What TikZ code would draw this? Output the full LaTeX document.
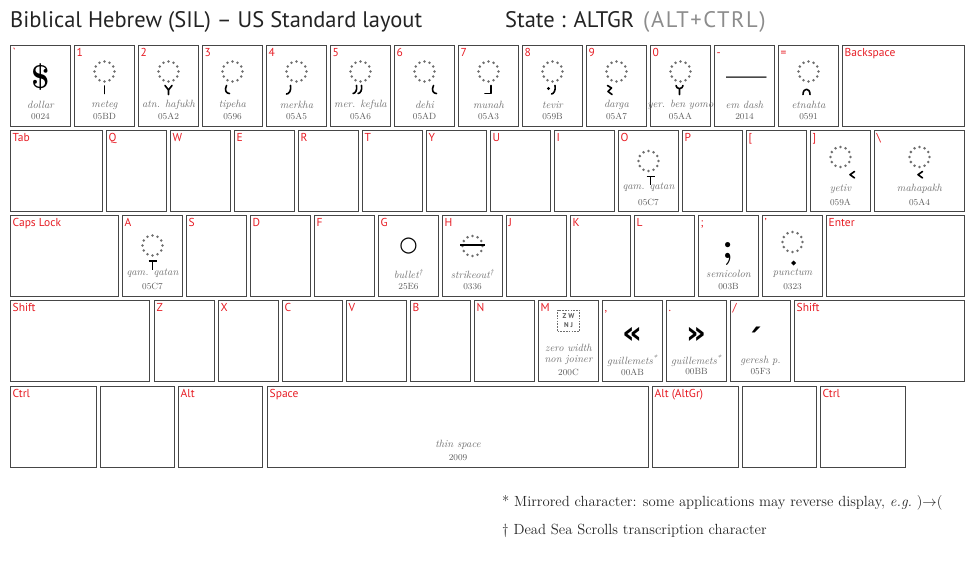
\documentclass[tikz,border=0pt]{standalone}
\usepackage{fontspec}
\usetikzlibrary{positioning,calc}
\newfontfamily\keyfont{PT Sans}
\newfontfamily\symfont{DejaVu Sans}
\definecolor{kbred}{RGB}{230,28,36}
\definecolor{kbline}{RGB}{70,70,70}
\definecolor{kbname}{RGB}{112,112,112}
\definecolor{kbcode}{RGB}{90,90,90}
\definecolor{kbring}{RGB}{110,110,110}
\definecolor{kbtitle}{RGB}{35,35,35}
\definecolor{kbmods}{RGB}{140,140,140}
\tikzset{
  keycap/.style={draw=kbline, line width=1pt, minimum height=81pt, inner sep=0pt, anchor=north west},
  keylbl/.style={anchor=base west, inner sep=0pt, text=kbred, font=\keyfont\fontsize{11.5}{12}\selectfont},
  gname/.style={inner sep=0pt, text=kbname, font=\itshape\fontsize{10.5}{12}\selectfont},
  gcode/.style={inner sep=0pt, text=kbcode, font=\fontsize{9}{10}\selectfont},
  bigglyph/.style={inner sep=0pt, anchor=base},
  accmark/.style={draw=black, line width=1.6pt, line cap=round, line join=round},
  titletxt/.style={anchor=base west, inner sep=0pt, text=kbtitle, font=\keyfont\fontsize{22.5}{26}\selectfont},
  foot/.style={anchor=base west, inner sep=0pt, text=kbtitle, font=\fontsize{14.7}{16}\selectfont},
  zwbox/.style={draw=kbring, dash pattern=on 1.6pt off 1.2pt, line width=0.8pt, minimum width=22pt, minimum height=21pt, inner sep=0pt, align=center, text=kbcode, font=\keyfont\bfseries\fontsize{7}{8.5}\selectfont}
}
% ring of dots standing for the base character
\newcommand{\dotring}[1]{%
  \foreach \a in {0,30,...,330}{\fill[kbring] ($(#1)+(\a:10)$) circle (1.4);}}

\begin{document}
\begin{tikzpicture}[x=1pt,y=-1pt]
\useasboundingbox (0,0) rectangle (976,560);

% Title
\node[titletxt] (title) at (10,27) {Biblical Hebrew (SIL) – US Standard layout};
\node[titletxt] (state) at (505,27) {State : ALTGR};
\node[titletxt, text=kbmods] (mods) at (643,27) {\addfontfeature{LetterSpace=7}(ALT+CTRL)};

% Row 1
\foreach \lab [count=\i from 0] in {`,1,2,3,4,5,6,7,8,9,0,-,=}{
  \node[keycap, minimum width=60pt] (ka\i) at (10+64*\i,45) {};
  \node[keylbl] at ([shift={(2.5,11.5)}]ka\i.north west) {\lab};
}
\node[keycap, minimum width=122pt] (bksp) at (842,45) {};
\node[keylbl] at ([shift={(2.5,11.5)}]bksp.north west) {Backspace};

% Row 2
\node[keycap, minimum width=92pt] (tab) at (10,130) {};
\node[keylbl] at ([shift={(2.5,11.5)}]tab.north west) {Tab};
\foreach \lab [count=\i from 0] in {Q,W,E,R,T,Y,U,I,O,P,{[},{]}}{
  \node[keycap, minimum width=60pt] (kb\i) at (106+64*\i,130) {};
  \node[keylbl] at ([shift={(2.5,11.5)}]kb\i.north west) {\lab};
}
\node[keycap, minimum width=90pt] (bsl) at (874,130) {};
\node[keylbl] at ([shift={(2.5,11.5)}]bsl.north west) {\textbackslash};

% Row 3
\node[keycap, minimum width=108pt] (caps) at (10,215) {};
\node[keylbl] at ([shift={(2.5,11.5)}]caps.north west) {Caps Lock};
\foreach \lab [count=\i from 0] in {A,S,D,F,G,H,J,K,L,{;},’}{
  \node[keycap, minimum width=60pt] (kc\i) at (122+64*\i,215) {};
  \node[keylbl] at ([shift={(2.5,11.5)}]kc\i.north west) {\lab};
}
\node[keycap, minimum width=138pt] (enter) at (826,215) {};
\node[keylbl] at ([shift={(2.5,11.5)}]enter.north west) {Enter};

% Row 4
\node[keycap, minimum width=139pt] (lshift) at (10,300) {};
\node[keylbl] at ([shift={(2.5,11.5)}]lshift.north west) {Shift};
\foreach \lab [count=\i from 0] in {Z,X,C,V,B,N,M,{,},.,/}{
  \node[keycap, minimum width=60pt] (kd\i) at (154+64*\i,300) {};
  \node[keylbl] at ([shift={(2.5,11.5)}]kd\i.north west) {\lab};
}
\node[keycap, minimum width=170pt] (rshift) at (794,300) {};
\node[keylbl] at ([shift={(2.5,11.5)}]rshift.north west) {Shift};

% Row 5
\node[keycap, minimum width=86pt] (lctrl) at (10,386) {};
\node[keylbl] at ([shift={(2.5,11.5)}]lctrl.north west) {Ctrl};
\node[keycap, minimum width=74pt] (lwin) at (100,386) {};
\node[keycap, minimum width=84pt] (alt) at (178,386) {};
\node[keylbl] at ([shift={(2.5,11.5)}]alt.north west) {Alt};
\node[keycap, minimum width=381pt] (space) at (267,386) {};
\node[keylbl] at ([shift={(2.5,11.5)}]space.north west) {Space};
\node[keycap, minimum width=86pt] (altgr) at (652,386) {};
\node[keylbl] at ([shift={(2.5,11.5)}]altgr.north west) {Alt (AltGr)};
\node[keycap, minimum width=74pt] (menu) at (742,386) {};
\node[keycap, minimum width=85pt] (rctrl) at (820,386) {};
\node[keylbl] at ([shift={(2.5,11.5)}]rctrl.north west) {Ctrl};

% Row 1 names and code points
\foreach \i/\nm/\cd in {0/dollar/0024, 1/meteg/05BD, 2/atn. hafukh/05A2, 3/tipeha/0596,
    4/merkha/05A5, 5/mer. kefula/05A6, 6/dehi/05AD, 7/munah/05A3, 8/tevir/059B,
    9/darga/05A7, 10/yer. ben yomo/05AA, 11/em dash/2014, 12/etnahta/0591}{
  \node[gname] (na\i) at ([shift={(0,60)}]ka\i.north) {\nm};
  \node[gcode] (ca\i) at ([shift={(0,71.5)}]ka\i.north) {\cd};
}
\foreach \i in {1,2,3,4,5,6,7,8,9,10,12}{
  \coordinate (ra\i) at ([shift={(0,26.5)}]ka\i.north);
  \dotring{ra\i}
}
\node[bigglyph, font=\bfseries\fontsize{33}{33}\selectfont] (dollar) at ([shift={(0,43)}]ka0.north) {\$};
\node[bigglyph, font=\bfseries\fontsize{36}{36}\selectfont] (emdash) at ([shift={(2,42)}]ka11.north) {—};

% Row 1 marks below the ring
\draw[accmark] ([shift={(0,14.5)}]ra1) -- ++(0,7.5);
\draw[accmark] ([shift={(-3.5,14)}]ra2) -- ++(3.5,4.5) -- ++(3.5,-4.5) ++(-3.5,4.5) -- ++(0,4.5);
\draw[accmark] ([shift={(-6,14)}]ra3) .. controls +(-2.5,5) and +(-3,0) .. ++(3,8);
\draw[accmark] ([shift={(-6,14)}]ra4) .. controls +(1,5) and +(2.5,0) .. ++(-4,8.5);
\foreach \dx in {-5,0}
  \draw[accmark] ([shift={(\dx+1,14)}]ra5) .. controls +(1,5) and +(2,0) .. ++(-3.5,8);
\draw[accmark] ([shift={(9,14)}]ra6) .. controls +(-2.5,5) and +(-3,0) .. ++(3,8);
\draw[accmark] ([shift={(2.5,14)}]ra7) -- ++(0,8) -- ++(-6,0);
\fill ([shift={(-4,17)}]ra8) circle (1.6);
\draw[accmark] ([shift={(2.5,14)}]ra8) .. controls +(1,5) and +(2,0) .. ++(-3.5,8.5);
\draw[accmark] ([shift={(-9,14)}]ra9) -- ++(4,2.5) -- ++(-3.5,3.5) -- ++(4,3);
\draw[accmark] ([shift={(-4.5,14)}]ra10) .. controls +(0,4) and +(0,4) .. ++(7,0) ([shift={(-1,17)}]ra10) -- ++(0,6);
\draw[accmark] ([shift={(-5.5,23)}]ra12) .. controls +(0,-7) and +(0,-7) .. ++(7,0);

% Row 2 glyphs
\coordinate (rb8) at ([shift={(0,31)}]kb8.north);
\dotring{rb8}
\draw[accmark, line cap=butt] ([shift={(-2,15.5)}]rb8) -- ++(8,0) ([shift={(2,15.5)}]rb8) -- ++(0,8.5);
\node[gname] (nb8) at ([shift={(0,57)}]kb8.north) {qam. qatan};
\node[gcode] (cb8) at ([shift={(0,72)}]kb8.north) {05C7};
\coordinate (rb11) at ([shift={(0,27)}]kb11.north);
\dotring{rb11}
\draw[accmark] ([shift={(14,14.5)}]rb11) -- ++(-4.5,3.2) -- ++(4.5,3.2);
\node[gname] (nb11) at ([shift={(0,59)}]kb11.north) {yetiv};
\node[gcode] (cb11) at ([shift={(0,72)}]kb11.north) {059A};
\coordinate (rbsl) at ([shift={(0,27)}]bsl.north);
\dotring{rbsl}
\draw[accmark] ([shift={(3,14.5)}]rbsl) -- ++(-4.5,3.2) -- ++(4.5,3.2);
\node[gname] (nbsl) at ([shift={(0,59)}]bsl.north) {mahapakh};
\node[gcode] (cbsl) at ([shift={(0,72)}]bsl.north) {05A4};

% Row 3 glyphs
\coordinate (rc0) at ([shift={(0,30.5)}]kc0.north);
\dotring{rc0}
\draw[accmark, line cap=butt] ([shift={(-4,15.5)}]rc0) -- ++(8,0) ([shift={(0,15.5)}]rc0) -- ++(0,8.5);
\node[bigglyph, font=\symfont\fontsize{21}{21}\selectfont] (bullet) at ([shift={(0,36.5)}]kc4.north) {○};
\coordinate (rc5) at ([shift={(0,31)}]kc5.north);
\dotring{rc5}
\draw[accmark, line width=1.6pt, line cap=butt] ([shift={(-12.5,-1)}]rc5) -- ++(25,0);
\node[bigglyph, font=\bfseries\fontsize{36}{36}\selectfont] (semi) at ([shift={(0,43)}]kc9.north) {;};
\coordinate (rc10) at ([shift={(0,27)}]kc10.north);
\dotring{rc10}
\fill ([shift={(1,45.5)}]kc10.north) -- ++(2.5,2.5) -- ++(-2.5,2.5) -- ++(-2.5,-2.5) -- cycle;
\foreach \i/\nm/\cd in {0/qam. qatan/05C7, 4/bullet\textsuperscript{\textdagger}/25E6,
    5/strikeout\textsuperscript{\textdagger}/0336, 9/semicolon/003B, 10/punctum/0323}{
  \node[gname] (nc\i) at ([shift={(0,58.5)}]kc\i.north) {\nm};
  \node[gcode] (cc\i) at ([shift={(0,71.5)}]kc\i.north) {\cd};
}

% Row 4 glyphs
\node[zwbox] (zwnj) at ([shift={(0,20.5)}]kd6.north) {Z W\\N J};
\node[gname] (nd6a) at ([shift={(0,48)}]kd6.north) {zero width};
\node[gname] (nd6b) at ([shift={(0,60)}]kd6.north) {non joiner};
\node[gcode] (cd6) at ([shift={(0,72)}]kd6.north) {200C};
\node[bigglyph, font=\symfont\bfseries\fontsize{31}{31}\selectfont] (laquo) at ([shift={(0,43.5)}]kd7.north) {«};
\node[bigglyph, font=\symfont\bfseries\fontsize{31}{31}\selectfont] (raquo) at ([shift={(0,43.5)}]kd8.north) {»};
\node[bigglyph, font=\symfont\bfseries\fontsize{32}{32}\selectfont] (geresh) at ([shift={(-4,44)}]kd9.north) {׳};
\foreach \i/\nm/\cd in {7/guillemets\textsuperscript{*}/00AB, 8/guillemets\textsuperscript{*}/00BB, 9/geresh p./05F3}{
  \node[gname] (nd\i) at ([shift={(0,61)}]kd\i.north) {\nm};
  \node[gcode] (cd\i) at ([shift={(0,72)}]kd\i.north) {\cd};
}

% Space bar
\node[gname] (nspace) at ([shift={(0,59)}]space.north) {thin space};
\node[gcode] (cspace) at ([shift={(0,72)}]space.north) {2009};

% Footnotes
\node[foot] (fn1) at (502,506) {* Mirrored character: some applications may reverse display, \textit{e.g.}\ )$\rightarrow$(};
\node[foot] (fn2) at (502,534) {\textdagger\ Dead Sea Scrolls transcription character};
\end{tikzpicture}
\end{document}
